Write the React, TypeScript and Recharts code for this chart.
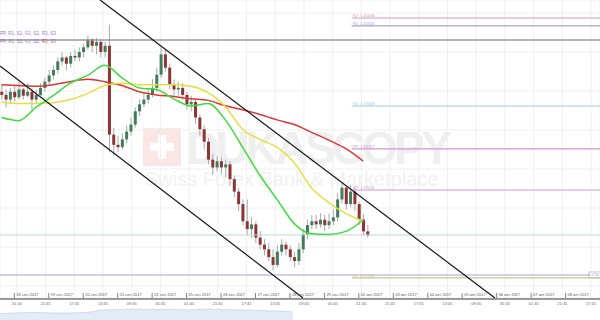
import React from 'react';
import {
  ComposedChart,
  Bar,
  Line,
  XAxis,
  YAxis,
  CartesianGrid,
  ReferenceLine,
  AreaChart,
  Area,
} from 'recharts';

// EUR/USD, 3h candles. Time is in trading hours counted from 18 сен 2017 00:00
const X_DOMAIN: [number, number] = [-10, 408];
const Y_DOMAIN: [number, number] = [1.16846, 1.20667];

const CANDLE_START = -9;
const CANDLE_STEP = 3;
const FIRST_OPEN = 1.1949;

const CLOSE = [
  1.1945, 1.1939, 1.1949, 1.1942, 1.1952, 1.1944, 1.1949, 1.1939, 1.1945, 1.1954,
  1.1962, 1.197, 1.1977, 1.1988, 1.1993, 1.1985, 1.1995, 1.1993, 1.2, 1.2006,
  1.2016, 1.2008, 1.2013, 1.2, 1.2008, 1.1894, 1.1881, 1.1878, 1.1888, 1.1898,
  1.1907, 1.1924, 1.1933, 1.1939, 1.1945, 1.1954, 1.1971, 1.1997, 1.198, 1.1958,
  1.1952, 1.1954, 1.1945, 1.1933, 1.1936, 1.1916, 1.1901, 1.1885, 1.1862, 1.1852,
  1.186, 1.1852, 1.1856, 1.1837, 1.1821, 1.1805, 1.1783, 1.1773, 1.1779, 1.1762,
  1.1753, 1.1747, 1.1737, 1.1727, 1.1744, 1.1753, 1.1747, 1.1737, 1.1732, 1.1747,
  1.1766, 1.1778, 1.1783, 1.1779, 1.1785, 1.1778, 1.1783, 1.1788, 1.1811, 1.1826,
  1.1805, 1.1821, 1.1805, 1.1785, 1.177, 1.1765,
];
const HIGH = [
  1.1958, 1.1952, 1.1954, 1.1957, 1.1962, 1.1954, 1.196, 1.1954, 1.1952, 1.196,
  1.1967, 1.1977, 1.1983, 1.1993, 1.2, 1.1995, 1.2, 1.2003, 1.2006, 1.2011,
  1.2021, 1.2018, 1.2018, 1.2016, 1.2013, 1.2035, 1.1903, 1.1893, 1.1896, 1.1906,
  1.1916, 1.1929, 1.1939, 1.1947, 1.1954, 1.1965, 1.198, 1.2006, 1.2003, 1.1985,
  1.1965, 1.1962, 1.196, 1.1949, 1.1944, 1.1939, 1.192, 1.1906, 1.189, 1.1869,
  1.1867, 1.1865, 1.1862, 1.186, 1.1842, 1.1826, 1.1811, 1.1811, 1.1788, 1.1783,
  1.177, 1.176, 1.1755, 1.1747, 1.1752, 1.176, 1.1757, 1.1752, 1.1744, 1.1755,
  1.1773, 1.1785, 1.1791, 1.1791, 1.1793, 1.1791, 1.1793, 1.1798, 1.1819, 1.1833,
  1.1829, 1.1829, 1.1826, 1.1808, 1.1792, 1.1778,
];
const LOW = [
  1.1939, 1.1929, 1.1934, 1.1936, 1.1939, 1.1939, 1.1942, 1.1926, 1.1934, 1.1943,
  1.1949, 1.1957, 1.1965, 1.1972, 1.1983, 1.1977, 1.198, 1.1988, 1.1988, 1.1993,
  1.2003, 1.2, 1.1997, 1.1993, 1.1993, 1.1872, 1.1867, 1.1872, 1.1875, 1.1883,
  1.1893, 1.1903, 1.1918, 1.1929, 1.1934, 1.1942, 1.1949, 1.1967, 1.1975, 1.1952,
  1.1944, 1.1944, 1.1939, 1.1926, 1.1924, 1.1908, 1.1893, 1.1875, 1.1856, 1.1842,
  1.1847, 1.1843, 1.1839, 1.1829, 1.1814, 1.1796, 1.1778, 1.1765, 1.1762, 1.1755,
  1.1747, 1.1739, 1.1732, 1.172, 1.1724, 1.1739, 1.1739, 1.1732, 1.1724, 1.1727,
  1.1742, 1.176, 1.1773, 1.1773, 1.1775, 1.177, 1.1773, 1.1778, 1.1783, 1.1806,
  1.1798, 1.1801, 1.1796, 1.1778, 1.1765, 1.1762,
];

// moving averages, one value every 4 candles
const MA_STEP = 4;
const MA_FAST = [
  1.1916, 1.1912, 1.1929, 1.1944, 1.196, 1.197, 1.1983, 1.1967, 1.1954, 1.1952, 1.194,
  1.1931, 1.1934, 1.1913, 1.1878, 1.1842, 1.1811, 1.178, 1.1767, 1.1766, 1.177, 1.1785,
];
const MA_MID = [
  1.1936, 1.1934, 1.1934, 1.1935, 1.1939, 1.1947, 1.1957, 1.196, 1.1958, 1.1958, 1.1958,
  1.1956, 1.1948, 1.193, 1.1901, 1.1888, 1.1878, 1.1858, 1.1826, 1.1807, 1.1793, 1.1783,
];
const MA_SLOW = [
  1.1958, 1.1957, 1.1956, 1.1958, 1.1962, 1.1965, 1.1962, 1.1957, 1.1949, 1.1945, 1.1943,
  1.194, 1.1938, 1.1931, 1.1926, 1.192, 1.1913, 1.1907, 1.1897, 1.1887, 1.1876, 1.186,
];

// pivot levels drawn from LEVEL_FROM to the right edge
const LEVEL_FROM = 235;
const LEVEL_NAMES = ['R2', 'R1', 'R1', 'PP', 'PP', 'S1'];
const LEVEL_VALUES = [1.20436, 1.20334, 1.19308, 1.18757, 1.18231, 1.17103];
const LEVEL_COLORS = ['#c99cc2', '#a3a3d6', '#98cfdd', '#d096d2', '#cf98d5', '#c9c38c'];

const SWING_HIGH = 1.20154;
const LAST_PRICE = 1.17654;
const PREV_S1 = 1.17141;

// trend channel, two points each
const CHANNEL_UPPER = [
  { t: 59.7, p: 1.20667 },
  { t: 334.8, p: 1.16846 },
];
const CHANNEL_LOWER = [
  { t: -10, p: 1.19821 },
  { t: 201.1, p: 1.16846 },
];

const PRICE_TICKS = [1.17, 1.175, 1.18, 1.185, 1.19, 1.195, 1.2, 1.205];

const TIME_LABELS = [
  '01:45', '21:45', '17:45', '13:45', '09:45', '05:45', '01:45', '21:45', '17:45', '13:45', '09:45',
  '05:45', '01:45', '21:45', '17:45', '13:45', '09:45', '05:45', '01:45', '21:45', '17:45',
];
const TIME_TICKS = TIME_LABELS.map((_, k) => 1.75 + k * 20);

const DATE_LABELS = [
  '18 сен 2017', '19 сен 2017', '20 сен 2017', '21 сен 2017', '22 сен 2017', '25 сен 2017',
  '26 сен 2017', '27 сен 2017', '28 сен 2017', '29 сен 2017', '02 окт 2017', '03 окт 2017',
  '04 окт 2017', '05 окт 2017', '06 окт 2017', '07 окт 2017', '08 окт 2017',
];
const DATE_TICKS = DATE_LABELS.map((_, k) => k * 24);

// navigator volume strip
const VOL_T = [-10, 2, 14, 26, 38, 50, 62, 74, 86, 98, 110, 122, 134, 146, 158, 170, 182, 194];
const VOL = [6.5, 7, 7.5, 7, 7, 7.5, 10, 10.5, 11, 10.5, 10.5, 10, 11, 10.5, 10, 9.5, 9, 8];

const rows = CLOSE.map((close, i) => ({
  t: CANDLE_START + i * CANDLE_STEP,
  open: i === 0 ? FIRST_OPEN : CLOSE[i - 1],
  close,
  high: HIGH[i],
  low: LOW[i],
  range: [LOW[i], HIGH[i]],
}));

const maRows = MA_FAST.map((fast, k) => ({
  t: CANDLE_START + k * MA_STEP * CANDLE_STEP,
  fast,
  mid: MA_MID[k],
  slow: MA_SLOW[k],
}));

const volRows = VOL_T.map((t, i) => ({ t, v: VOL[i] }));

function Candle(props: any) {
  const { x, y, width, height, payload } = props;
  if (x == null || y == null || !payload) return null;
  const top = Math.min(y, y + height);
  const h = Math.abs(height);
  const { open, close, high, low } = payload;
  const span = high - low || 1;
  const yOf = (v: number) => top + ((high - v) / span) * h;
  const yo = yOf(open);
  const yc = yOf(close);
  const cx = x + width / 2;
  return (
    <g>
      <line x1={cx} x2={cx} y1={top} y2={top + h} stroke="#a8a8a8" strokeWidth={1} />
      <rect
        x={x}
        y={Math.min(yo, yc)}
        width={width}
        height={Math.max(1, Math.abs(yc - yo))}
        fill={close >= open ? '#3f7d5c' : '#8e3434'}
      />
    </g>
  );
}

function DateTick({ x, y, payload }: any) {
  const k = DATE_TICKS.indexOf(payload.value);
  return (
    <g>
      <line x1={x} x2={x} y1={y - 5} y2={y} stroke="#666" strokeWidth={0.8} />
      <text x={x + 2} y={y - 2} fontSize={4} fill="#555">
        {DATE_LABELS[k]}
      </text>
    </g>
  );
}

function RightTag({ viewBox }: any) {
  if (!viewBox) return null;
  const right = viewBox.x + viewBox.width;
  return (
    <g>
      <rect x={right - 11} y={viewBox.y - 3} width={11.5} height={6} fill="#fff" stroke="#a3a3d6" strokeWidth={0.6} />
      <text x={right - 1} y={viewBox.y + 1.5} fontSize={3.6} fill="#8d8dc6" textAnchor="end">
        1.1714
      </text>
    </g>
  );
}

const LEGEND_1 = ['PP,', 'R1,', 'S1,', 'R2,', 'S2,', 'R3,', 'S3'];
const LEGEND_1_COLORS = ['#a06cc0', '#8c7cc8', '#a06cc0', '#b889c9', '#a06cc0', '#8c7cc8', '#a06cc0'];
const LEGEND_2_COLORS = ['#a06cc0', '#8c7cc8', '#a06cc0', '#b889c9', '#a06cc0', '#c0504d', '#a06cc0'];

export default function App() {
  return (
    <div
      style={{
        position: 'absolute',
        left: 0,
        top: 0,
        width: 600,
        height: 320,
        background: '#fff',
        overflow: 'hidden',
        fontFamily: "'Liberation Sans', Arial, sans-serif",
      }}
    >
      {/* watermark */}
      <div style={{ position: 'absolute', left: 143, top: 128, width: 38, height: 38, background: '#fbe6e6' }}>
        <div style={{ position: 'absolute', left: 15, top: 7, width: 8, height: 24, background: '#fff' }} />
        <div style={{ position: 'absolute', left: 7, top: 15, width: 24, height: 8, background: '#fff' }} />
      </div>
      <div
        style={{
          position: 'absolute',
          left: 186,
          top: 128,
          height: 40,
          fontSize: 46,
          fontWeight: 900,
          letterSpacing: -3.5,
          lineHeight: '40px',
          color: '#efefef',
        }}
      >
        DUKASCOPY
      </div>
      <div style={{ position: 'absolute', left: 145, top: 170, fontSize: 20, lineHeight: '18px', color: '#f1f1f1' }}>
        Swiss Forex Bank &amp; Marketplace
      </div>

      <div style={{ position: 'absolute', left: 0, top: 0 }}>
        <ComposedChart width={600} height={309} data={rows} margin={{ top: 0, right: 0, bottom: 0, left: 0 }}>
          <CartesianGrid xAxisId="time" stroke="#ececec" strokeWidth={0.8} />
          <XAxis dataKey="t" type="number" domain={X_DOMAIN} allowDataOverflow ticks={DATE_TICKS}
            interval={0} height={1} tickSize={0} tickMargin={0} axisLine={false} tickLine={false} tick={<DateTick />} />
          <XAxis xAxisId="time" dataKey="t" type="number" domain={X_DOMAIN} allowDataOverflow ticks={TIME_TICKS}
            interval={0} height={10} tickSize={2} tickMargin={1} tickLine={false}
            axisLine={{ stroke: '#3a3a3a', strokeWidth: 1.2 }}
            tickFormatter={(v: number) => TIME_LABELS[TIME_TICKS.indexOf(v)] ?? ''}
            tick={{ fontSize: 4, fill: '#666' }} />
          <YAxis hide type="number" domain={Y_DOMAIN} allowDataOverflow ticks={PRICE_TICKS} />

          <ReferenceLine y={SWING_HIGH} stroke="#999" strokeWidth={1.5} />
          <ReferenceLine y={LAST_PRICE} stroke="#bcd9d0" strokeWidth={1} />
          <ReferenceLine y={PREV_S1} stroke="#a3a3d6" strokeWidth={1.2} label={<RightTag />} />
          {LEVEL_VALUES.map((v, i) => (
            <ReferenceLine
              key={i}
              segment={[{ x: LEVEL_FROM, y: v }, { x: X_DOMAIN[1], y: v }]}
              stroke={LEVEL_COLORS[i]}
              strokeWidth={1.2}
              ifOverflow="visible"
              label={{
                value: `${LEVEL_NAMES[i]}: ${v.toFixed(5)}`,
                position: 'insideBottomLeft',
                offset: 1,
                fontSize: 4,
                fill: LEVEL_COLORS[i],
              }}
            />
          ))}

          <Bar dataKey="range" barSize={3} shape={<Candle />} isAnimationActive={false} />

          <Line data={maRows} dataKey="slow" type="monotone" stroke="#dd3535" strokeWidth={1.5} dot={false} activeDot={false} isAnimationActive={false} />
          <Line data={maRows} dataKey="mid" type="monotone" stroke="#e8dd40" strokeWidth={1.5} dot={false} activeDot={false} isAnimationActive={false} />
          <Line data={maRows} dataKey="fast" type="monotone" stroke="#3fdc3a" strokeWidth={1.5} dot={false} activeDot={false} isAnimationActive={false} />

          <ReferenceLine
            segment={[{ x: CHANNEL_UPPER[0].t, y: CHANNEL_UPPER[0].p }, { x: CHANNEL_UPPER[1].t, y: CHANNEL_UPPER[1].p }]}
            stroke="#151515" strokeWidth={1.2} ifOverflow="visible" />
          <ReferenceLine
            segment={[{ x: CHANNEL_LOWER[0].t, y: CHANNEL_LOWER[0].p }, { x: CHANNEL_LOWER[1].t, y: CHANNEL_LOWER[1].p }]}
            stroke="#151515" strokeWidth={1.2} ifOverflow="visible" />
        </ComposedChart>
      </div>

      {/* indicator legend */}
      <div style={{ position: 'absolute', left: 0, top: 30, fontSize: 4.5, lineHeight: '7.5px', whiteSpace: 'nowrap' }}>
        <div>
          {LEGEND_1.map((w, i) => (
            <span key={i} style={{ color: LEGEND_1_COLORS[i], marginRight: 1.5 }}>{w}</span>
          ))}
        </div>
        <div>
          {LEGEND_1.map((w, i) => (
            <span key={i} style={{ color: LEGEND_2_COLORS[i], marginRight: 1.5 }}>{w}</span>
          ))}
        </div>
      </div>

      <div style={{ position: 'absolute', left: 0, top: 308 }}>
        <AreaChart width={600} height={12} data={volRows} margin={{ top: 0, right: 0, bottom: 0, left: 0 }}>
          <XAxis dataKey="t" type="number" domain={X_DOMAIN} allowDataOverflow hide />
          <YAxis type="number" domain={[0, 12]} allowDataOverflow hide />
          <Area dataKey="v" type="monotone" stroke="#c3d5ea" fill="#e2ecf7" fillOpacity={1} strokeWidth={0.8} isAnimationActive={false} />
        </AreaChart>
      </div>
    </div>
  );
}
